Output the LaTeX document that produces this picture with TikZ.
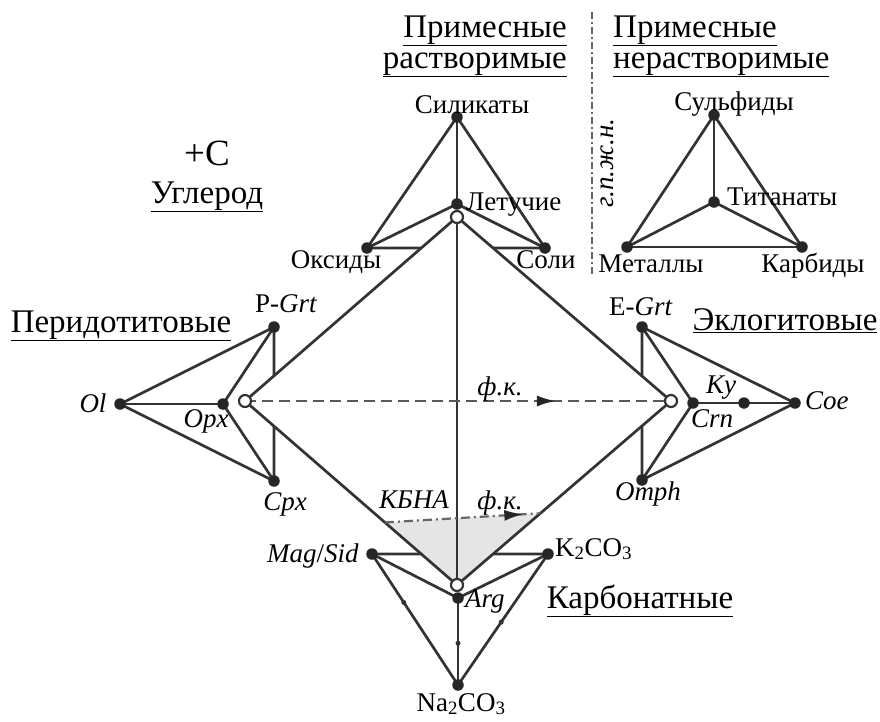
\documentclass[tikz,border=0pt]{standalone}
\usepackage{fontspec}
\setmainfont{Liberation Serif}
\usetikzlibrary{arrows.meta,decorations.markings,calc}
\begin{document}
\begin{tikzpicture}[x=1pt,y=-1pt,
  ln/.style={draw=black!80,line width=2.7pt},
  dashln/.style={draw=black!65,line width=2.6pt,dash pattern=on 11pt off 6pt},
  dotdashln/.style={draw=black!60,line width=2.2pt,dash pattern=on 9pt off 4pt on 2pt off 4pt},
  sepln/.style={draw=black!60,line width=2.4pt,dash pattern=on 7pt off 3pt on 2pt off 3pt},
  dot/.style={circle,fill=black!85,inner sep=0pt,minimum size=11.5pt},
  odot/.style={circle,draw=black!80,fill=white,line width=2.2pt,inner sep=0pt,minimum size=12pt},
  tinydot/.style={circle,fill=black!80,inner sep=0pt,minimum size=5pt},
  lbl/.style={font=\fontsize{27}{30}\selectfont,inner sep=0pt,anchor=base,text=black},
  ttl/.style={lbl,font=\fontsize{33}{36}\selectfont},
  midarrow/.style={postaction={decorate},decoration={markings,
    mark=at position #1 with {\arrow[black!85,solid]{Latex[length=19pt,width=11pt]}}}}]
\useasboundingbox (0,0) rectangle (880,721);
% ---------- coordinates ----------
% diamond
\coordinate (T) at (457,217);
\coordinate (L) at (245,401);
\coordinate (R) at (671,401);
\coordinate (B) at (457,585);
% top tetrahedron
\coordinate (Sil) at (457,117);
\coordinate (Let) at (457,204);
\coordinate (Oks) at (367,248);
\coordinate (Sol) at (545,248);
% left tetrahedron
\coordinate (PGrt) at (274,327);
\coordinate (Ol) at (120,404);
\coordinate (Opx) at (223,404);
\coordinate (Cpx) at (274,481);
% right tetrahedron
\coordinate (EGrt) at (642,327);
\coordinate (Crn) at (693,403);
\coordinate (Ky) at (744,403);
\coordinate (Coe) at (795,403);
\coordinate (Omph) at (642,480);
% top right tetrahedron
\coordinate (Sul) at (714,115);
\coordinate (Tit) at (714,202);
\coordinate (Met) at (627,247);
\coordinate (Kar) at (802,247);
% bottom tetrahedron
\coordinate (Mag) at (372,554);
\coordinate (Kc) at (548,554);
\coordinate (Arg) at (458,598);
\coordinate (Na) at (458,685);
% KBNA line ends
\coordinate (kl) at ($(L)!0.66!(B)$);
\coordinate (kr) at ($(R)!0.61!(B)$);
% separator
\coordinate (sepT) at (592,12);
\coordinate (sepB) at (592,277);

% ---------- shaded area ----------
\fill[black!10] (kl) -- (kr) -- (B) -- cycle;

% ---------- edges ----------
% top
\draw[ln] (Sil) -- (Let);
\draw[ln] (Sil) -- (Oks);
\draw[ln] (Sil) -- (Sol);
\draw[ln] (Let) -- (Oks);
\draw[ln] (Let) -- (Sol);
\draw[ln] (Oks) -- (intersection of Oks--Sol and T--L);
\draw[ln] (intersection of Oks--Sol and T--R) -- (Sol);
% diamond
\draw[ln] (T) -- (L) -- (B) -- (R) -- cycle;
\draw[ln] (T) -- (B);
% left
\draw[ln] (Ol) -- (PGrt);
\draw[ln] (Ol) -- (Opx);
\draw[ln] (Ol) -- (Cpx);
\draw[ln] (Opx) -- (PGrt);
\draw[ln] (Opx) -- (Cpx);
\draw[ln] (PGrt) -- (intersection of PGrt--Cpx and T--L);
\draw[ln] (intersection of PGrt--Cpx and L--B) -- (Cpx);
% right
\draw[ln] (EGrt) -- (Coe);
\draw[ln] (EGrt) -- (Crn);
\draw[ln] (Crn) -- (Ky) -- (Coe);
\draw[ln] (Crn) -- (Omph);
\draw[ln] (Omph) -- (Coe);
\draw[ln] (EGrt) -- (intersection of EGrt--Omph and T--R);
\draw[ln] (intersection of EGrt--Omph and R--B) -- (Omph);
% top right
\draw[ln] (Sul) -- (Tit);
\draw[ln] (Sul) -- (Met);
\draw[ln] (Sul) -- (Kar);
\draw[ln] (Tit) -- (Met);
\draw[ln] (Tit) -- (Kar);
\draw[ln] (Met) -- (Kar);
% bottom
\draw[ln] (Mag) -- (Arg);
\draw[ln] (Kc) -- (Arg);
\draw[ln] (Arg) -- (Na);
\draw[ln] (Mag) -- (Na);
\draw[ln] (Kc) -- (Na);
\draw[ln] (Mag) -- (intersection of Mag--Kc and L--B);
\draw[ln] (intersection of Mag--Kc and R--B) -- (Kc);
% dashed lines
\draw[dashln,midarrow=0.73] (L) -- (R);
\draw[dotdashln,midarrow=0.89] (kl) -- (kr);
\draw[sepln] (sepT) -- (sepB);

% ---------- dots ----------
\foreach \p in {Sil,Let,Oks,Sol,PGrt,Ol,Opx,Cpx,EGrt,Crn,Ky,Coe,Omph,Sul,Tit,Met,Kar,Mag,Kc,Arg,Na}
  \node[dot] (d\p) at (\p) {};
\foreach \p in {T,L,R,B}
  \node[odot] (o\p) at (\p) {};
\node[tinydot] (m1) at ($(Mag)!0.37!(Na)$) {};
\node[tinydot] (m2) at ($(Arg)!0.52!(Na)$) {};
\node[tinydot] (m3) at ($(Kc)!0.52!(Na)$) {};

% ---------- labels ----------
\node[ttl,anchor=base east] (tPrR1) at (567,37) {\underline{Примесные}};
\node[ttl,anchor=base east] (tPrR2) at (567,68) {\underline{растворимые}};
\node[ttl,anchor=base west] (tPrN1) at (613,37) {\underline{Примесные}};
\node[ttl,anchor=base west] (tPrN2) at (613,68) {\underline{нерастворимые}};
\node[lbl] (lSil) at (472,113) {Силикаты};
\node[lbl,anchor=base west] (lLet) at (466,210) {Летучие};
\node[lbl] (lOks) at (336,268) {Оксиды};
\node[lbl] (lSol) at (546,268) {Соли};
\node[lbl] (lSul) at (734,110) {Сульфиды};
\node[lbl,anchor=base west] (lTit) at (727,205) {Титанаты};
\node[lbl] (lMet) at (651,272) {Металлы};
\node[lbl] (lKar) at (813,272) {Карбиды};
\node[lbl,anchor=center,rotate=90] (lgp) at (607,163) {\textit{г.п.ж.н.}};
\node[ttl,font=\fontsize{37}{40}\selectfont] (lC) at (207,165) {+C};
\node[ttl] (lUgl) at (207,203) {\underline{Углерод}};
\node[ttl] (lPer) at (121,332) {\underline{Перидотитовые}};
\node[lbl,anchor=base west] (lPGrt) at (255,312) {P-\textit{Grt}};
\node[lbl] (lOl) at (93,412) {\textit{Ol}};
\node[lbl] (lOpx) at (206,427) {\textit{Opx}};
\node[lbl] (lCpx) at (285,510) {\textit{Cpx}};
\node[lbl] (lEGrt) at (641,315) {E-\textit{Grt}};
\node[ttl] (lEkl) at (785,330) {\underline{Эклогитовые}};
\node[lbl] (lKy) at (721,393) {\textit{Ky}};
\node[lbl] (lCrn) at (712,427) {\textit{Crn}};
\node[lbl,anchor=base west] (lCoe) at (805,409) {\textit{Coe}};
\node[lbl] (lOmph) at (648,500) {\textit{Omph}};
\node[lbl] (lfk1) at (500,395) {\textit{ф.к.}};
\node[lbl] (lKBNA) at (414,508) {\textit{КБНА}};
\node[lbl] (lfk2) at (500,509) {\textit{ф.к.}};
\node[lbl,anchor=base east] (lMag) at (359,562) {\textit{Mag}/\textit{Sid}};
\node[lbl,anchor=base west] (lKc) at (555,556) {K\textsubscript{2}CO\textsubscript{3}};
\node[lbl,anchor=base west] (lArg) at (465,607) {\textit{Arg}};
\node[lbl] (lNa) at (461,711) {Na\textsubscript{2}CO\textsubscript{3}};
\node[ttl] (lKarb) at (640,608) {\underline{Карбонатные}};
\end{tikzpicture}
\end{document}
